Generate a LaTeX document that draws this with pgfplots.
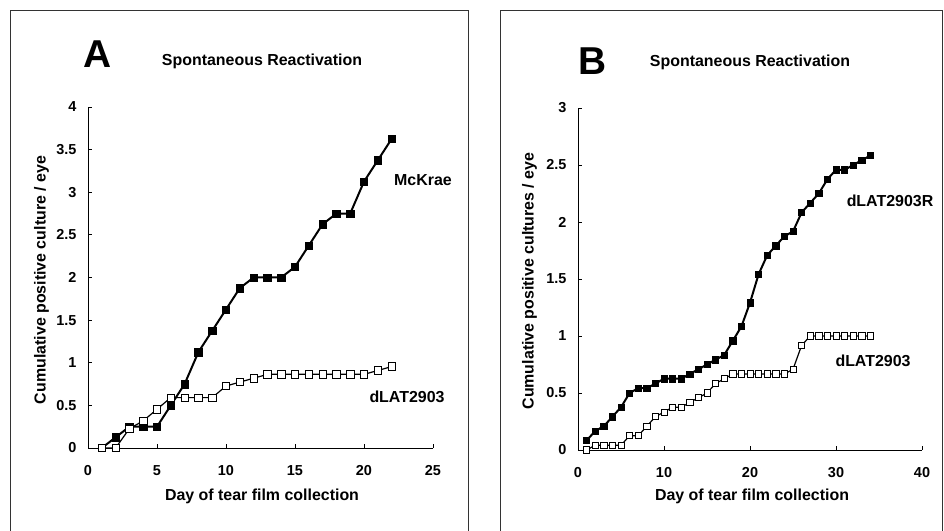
\documentclass[border=0pt]{standalone}
\usepackage{fontspec}
\setmainfont{Liberation Sans}
\usepackage{pgfplots}
\pgfplotsset{compat=1.18}
\pgfplotstableread{
x y
1 0
2 0.125
3 0.25
4 0.25
5 0.25
6 0.5
7 0.75
8 1.125
9 1.375
10 1.625
11 1.875
12 2
13 2
14 2
15 2.125
16 2.375
17 2.625
18 2.75
19 2.75
20 3.125
21 3.375
22 3.625
}\mckrae
\pgfplotstableread{
x y
1 0
2 0
3 0.227
4 0.318
5 0.455
6 0.591
7 0.591
8 0.591
9 0.591
10 0.727
11 0.773
12 0.818
13 0.864
14 0.864
15 0.864
16 0.864
17 0.864
18 0.864
19 0.864
20 0.864
21 0.909
22 0.955
}\dlatA
\pgfplotstableread{
x y
1 0.083
2 0.167
3 0.208
4 0.292
5 0.375
6 0.5
7 0.542
8 0.542
9 0.583
10 0.625
11 0.625
12 0.625
13 0.667
14 0.708
15 0.75
16 0.792
17 0.833
18 0.958
19 1.083
20 1.292
21 1.542
22 1.708
23 1.792
24 1.875
25 1.917
26 2.083
27 2.167
28 2.25
29 2.375
30 2.458
31 2.458
32 2.5
33 2.542
34 2.583
}\dlatR
\pgfplotstableread{
x y
1 0
2 0.042
3 0.042
4 0.042
5 0.042
6 0.125
7 0.125
8 0.208
9 0.292
10 0.333
11 0.375
12 0.375
13 0.417
14 0.458
15 0.5
16 0.583
17 0.625
18 0.667
19 0.667
20 0.667
21 0.667
22 0.667
23 0.667
24 0.667
25 0.708
26 0.917
27 1
28 1
29 1
30 1
31 1
32 1
33 1
34 1
}\dlatB
\pgfplotsset{
  panel/.style={
    scale only axis,
    axis lines=left,
    axis line style={-, line width=0.9bp, black},
    tick align=inside,
    major tick length=4bp,
    tick style={line width=0.8bp, black},
    clip=false,
    /pgf/number format/assume math mode=true,
    ticklabel style={font=\fontsize{14.5}{14.5}\selectfont\bfseries},
    xticklabel style={yshift=-14bp},
    yticklabel style={xshift=-8bp},
  },
  filledser/.style={black, line width=2bp, mark=square*, mark size=3.7bp, mark options={fill=black, line width=0.5bp}},
  openser/.style={black, line width=1.2bp, mark=square*, mark size=3.7bp, mark options={fill=white, line width=0.8bp}},
}
\begin{document}
\begin{tikzpicture}
\path[use as bounding box] (0,0) rectangle (944bp,531bp);
\draw[line width=0.8bp, black!80] (10bp,-5bp) rectangle (468bp,521bp);
\draw[line width=0.8bp, black!80] (500bp,-5bp) rectangle (942.5bp,521bp);

\begin{axis}[panel, at={(88bp,83bp)}, anchor=south west,
  width=345bp, height=341bp,
  xmin=0, xmax=25, ymin=0, ymax=4,
  xtick={0,5,10,15,20,25}, ytick={0,0.5,1,1.5,2,2.5,3,3.5,4},
  yticklabels={0,0.5,1,1.5,2,2.5,3,3.5,4}]
\addplot[filledser] table[x=x,y=y] {\mckrae};
\addplot[openser] table[x=x,y=y] {\dlatA};
\end{axis}

\begin{axis}[panel, at={(578bp,81bp)}, anchor=south west,
  width=344bp, height=342bp,
  xmin=0, xmax=40, ymin=0, ymax=3,
  xtick={0,10,20,30,40}, ytick={0,0.5,1,1.5,2,2.5,3},
  yticklabels={0,0.5,1,1.5,2,2.5,3}]
\addplot[filledser, mark size=3.1bp] table[x=x,y=y] {\dlatR};
\addplot[openser, mark size=3.1bp] table[x=x,y=y] {\dlatB};
\end{axis}

\def\big{\fontsize{39}{39}\selectfont\bfseries}
\def\mid{\fontsize{16}{16}\selectfont\bfseries}
\node[inner sep=0, font=\big] at (98bp,477bp) {A};
\node[inner sep=0, font=\big] at (593bp,470bp) {B};
\node[inner sep=0, anchor=base, font=\mid] at (262bp,465.3bp) {Spontaneous Reactivation};
\node[inner sep=0, anchor=base, font=\mid] at (750bp,464.3bp) {Spontaneous Reactivation};
\node[inner sep=0, anchor=base, font=\mid] at (423bp,345.3bp) {McKrae};
\node[inner sep=0, anchor=base, font=\mid] at (407bp,128.3bp) {dLAT2903};
\node[inner sep=0, anchor=base, font=\mid] at (890bp,324.3bp) {dLAT2903R};
\node[inner sep=0, anchor=base, font=\mid] at (873bp,164.3bp) {dLAT2903};
\node[inner sep=0, anchor=base, font=\mid] at (262bp,30.3bp) {Day of tear film collection};
\node[inner sep=0, anchor=base, font=\mid] at (752bp,30.3bp) {Day of tear film collection};
\node[inner sep=0, anchor=base, rotate=90, font=\mid] at (45.7bp,251bp) {Cumulative positive culture / eye};
\node[inner sep=0, anchor=base, rotate=90, font=\mid] at (533.7bp,250bp) {Cumulative positive cultures / eye};
\end{tikzpicture}
\end{document}
